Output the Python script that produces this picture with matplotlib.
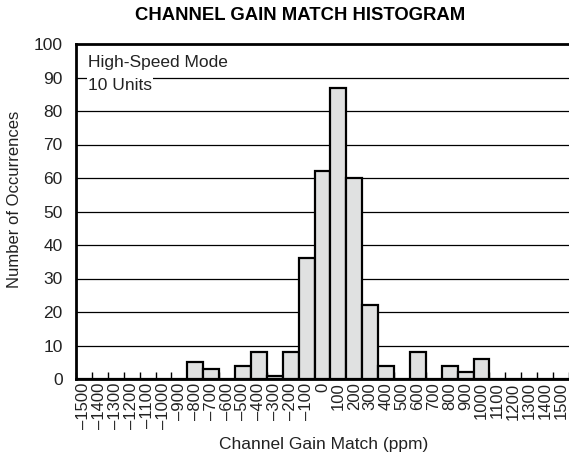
import matplotlib
matplotlib.use("Agg")
import matplotlib.pyplot as plt
import numpy as np

plt.rcParams['font.family'] = ['Liberation Sans', 'DejaVu Sans']

categories = list(range(-1500, 1501, 100))
counts = [0, 0, 0, 0, 0, 0, 0, 5, 3, 0, 4, 8, 1, 8, 36,
          62, 87, 60, 22, 4, 0, 8, 0, 4, 2, 6, 0, 0, 0, 0, 0]
tick_labels = [("\u2013" + str(-c)) if c < 0 else str(c) for c in categories]
y_ticks = list(range(0, 101, 10))

W, H = 569, 459
fig = plt.figure(figsize=(W / 100, H / 100), dpi=100)
left, right = 76, 569
bottom_px, top_px = 379, 44
ax = fig.add_axes([left / W, (H - bottom_px) / H, (right - left) / W, (bottom_px - top_px) / H])

x = np.arange(len(categories))
ax.bar(x, counts, width=1.0, color='#e0e1e1', edgecolor='black', linewidth=1.6, zorder=3)

bin_w = 16.0
ax.set_xlim(-0.5, -0.5 + (right - left) / bin_w)
ax.set_ylim(0, 100)

for yv in y_ticks[1:-1]:
    ax.axhline(yv, color='black', linewidth=0.9, zorder=1)

ax.set_yticks(y_ticks)
ax.set_yticklabels([str(v) for v in y_ticks], fontsize=12.5, color='#222222')
ax.tick_params(axis='y', length=0, pad=9.5)

ax.set_xticks(x)
ax.set_xticklabels(tick_labels, rotation=90, fontsize=12, va='top', ha='center',
                   color='#222222')
ax.tick_params(axis='x', which='major', length=0, pad=2.5)
ax.set_xticks(np.arange(-0.5, len(categories) - 0.4, 1.0), minor=True)
ax.tick_params(axis='x', which='minor', direction='in', length=5, width=1.0)

for s in ['top', 'left', 'bottom']:
    ax.spines[s].set_linewidth(2.0)
    ax.spines[s].set_zorder(5)
ax.spines['right'].set_visible(False)

bb = dict(facecolor='white', edgecolor='none', pad=1.0)
fig.text(88 / W, 1 - 66.5 / H, "High-Speed Mode", fontsize=12.5, va='baseline', ha='left',
         color='#222222', bbox=bb, zorder=4)
fig.text(88 / W, 1 - 90 / H, "10 Units", fontsize=12.5, va='baseline', ha='left',
         color='#222222', bbox=bb, zorder=4)

fig.text(324 / W, 1 - 444 / H, "Channel Gain Match (ppm)", fontsize=12.5,
         color='#222222', ha='center', va='center')
fig.text(15 / W, 1 - 199 / H, "Number of Occurrences", fontsize=12, rotation=90,
         color='#222222', ha='center', va='center')

fig.text(300 / W, 1 - 16 / H, "CHANNEL GAIN MATCH HISTOGRAM", fontsize=13.3,
         fontweight='bold', ha='center', va='center')

fig.savefig("out.png", dpi=100)
